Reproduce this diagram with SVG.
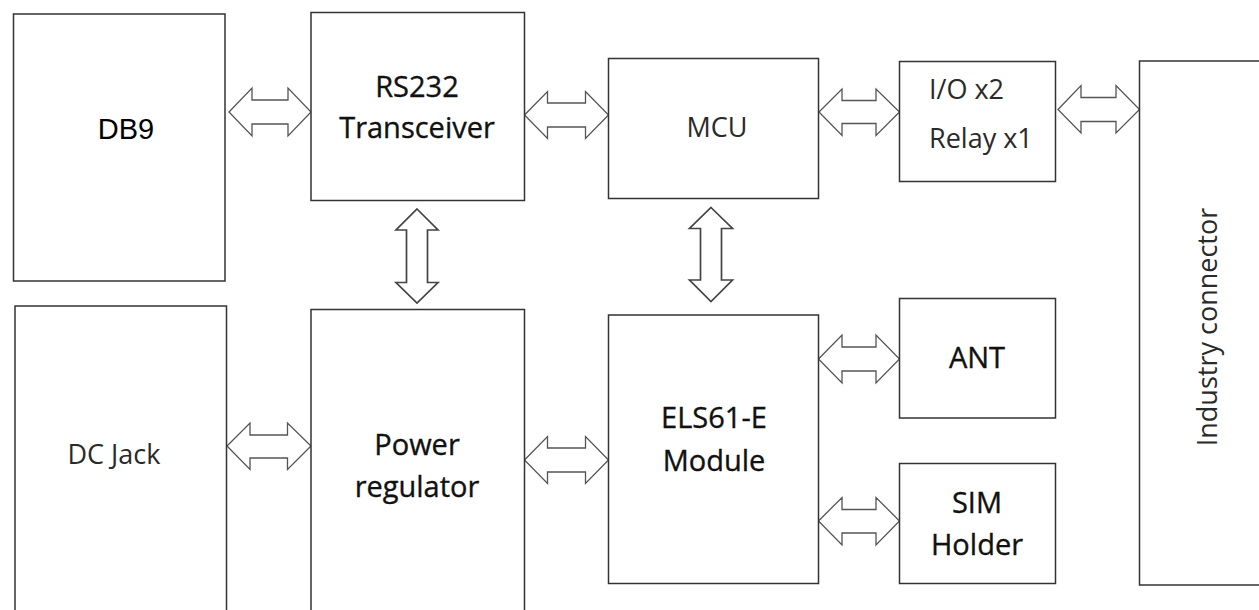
<svg xmlns="http://www.w3.org/2000/svg" width="1259" height="610" viewBox="0 0 1259 610">
<style>
.box{fill:#fff;stroke:#333;stroke-width:1.5}
.arr{fill:#fff;stroke:#555;stroke-width:1.3;stroke-linejoin:miter}
.varr{fill:#fff;stroke:#444;stroke-width:1.7;stroke-linejoin:miter}
.t{font-family:"Open Sans","Noto Sans","DejaVu Sans",sans-serif;fill:#1a1a1a;text-anchor:middle}
.big{font-size:29px;fill:#111;stroke:#111;stroke-width:0.35}
.sm{font-size:27px;fill:#2a2a2a}
.ar{font-family:"Liberation Sans",Arial,sans-serif;font-size:29px;fill:#000;text-anchor:middle}
</style>
<rect width="1259" height="610" fill="#fff"/>
<g id="connectors">
<path class="arr" d="M229,112 L252,88 L252,100 L288,100 L288,88 L311,112 L288,136 L288,124 L252,124 L252,136 Z"/>
<path class="arr" d="M524.5,115 L547.5,91.5 L547.5,103 L585.5,103 L585.5,91.5 L608.5,115 L585.5,138.5 L585.5,127 L547.5,127 L547.5,138.5 Z"/>
<path class="arr" d="M819,112 L842,89 L842,100.5 L876,100.5 L876,89 L899.5,112 L876,135.5 L876,123.5 L842,123.5 L842,135.5 Z"/>
<path class="arr" d="M1058,109.5 L1081,85.5 L1081,97.5 L1116,97.5 L1116,85.5 L1139.5,109.5 L1116,133 L1116,121.5 L1081,121.5 L1081,133 Z"/>
<path class="arr" d="M227,446 L250,423 L250,435 L287.5,435 L287.5,423 L311,446 L287.5,469.5 L287.5,458 L250,458 L250,469.5 Z"/>
<path class="arr" d="M524.5,460 L547.5,436.5 L547.5,448 L585.5,448 L585.5,436.5 L608.5,460 L585.5,483.5 L585.5,472 L547.5,472 L547.5,483.5 Z"/>
<path class="arr" d="M818.5,359 L842,335 L842,347 L876,347 L876,335 L899.5,359 L876,383 L876,371 L842,371 L842,383 Z"/>
<path class="arr" d="M818.5,521 L842,497.5 L842,509.5 L876,509.5 L876,497.5 L899.5,521 L876,545 L876,533 L842,533 L842,545 Z"/>
<path class="varr" d="M417,209 L438,230 L427.5,230 L427.5,282.5 L438,282.5 L417,303 L396,282.5 L406.5,282.5 L406.5,230 L396,230 Z"/>
<path class="varr" d="M711,207.5 L732.5,228.5 L721.5,228.5 L721.5,280 L732.5,280 L711,301.5 L689.5,280 L700.5,280 L700.5,228.5 L689.5,228.5 Z"/>
</g>
<g id="db9">
<rect class="box" x="13.5" y="14" width="211.5" height="267"/>
<text class="ar" x="126" y="139">DB9</text>
</g>
<g id="rs232">
<rect class="box" x="311" y="12.5" width="213.5" height="188"/>
<text class="t big" x="417" y="97">RS232</text>
<text class="t big" x="417" y="138">Transceiver</text>
</g>
<g id="mcu">
<rect class="box" x="608.5" y="58.5" width="210" height="140"/>
<text class="t sm" x="717" y="137">MCU</text>
</g>
<g id="io">
<rect class="box" x="899.5" y="61.5" width="156" height="120"/>
<text class="t sm" x="929" y="99" style="text-anchor:start">I/O x2</text>
<text class="t sm" x="929" y="148" style="text-anchor:start">Relay x1</text>
</g>
<g id="industry">
<rect class="box" x="1139.5" y="61" width="130" height="524"/>
<text class="t sm" transform="translate(1217,327) rotate(-90)">Industry connector</text>
</g>
<g id="dcjack">
<rect class="box" x="15" y="306" width="211.5" height="320"/>
<text class="t sm" x="114" y="464">DC Jack</text>
</g>
<g id="power">
<rect class="box" x="311" y="309.5" width="213.5" height="320"/>
<text class="t big" x="417" y="455">Power</text>
<text class="t big" x="417" y="497">regulator</text>
</g>
<g id="els61">
<rect class="box" x="608.5" y="315" width="210" height="268.5"/>
<text class="t big" x="714" y="428">ELS61-E</text>
<text class="t big" x="714" y="471">Module</text>
</g>
<g id="ant">
<rect class="box" x="899.5" y="298.5" width="156" height="119.5"/>
<text class="t big" x="977" y="368">ANT</text>
</g>
<g id="sim">
<rect class="box" x="899.5" y="463.5" width="156" height="120"/>
<text class="t big" x="977" y="513">SIM</text>
<text class="t big" x="977" y="555">Holder</text>
</g>
</svg>
